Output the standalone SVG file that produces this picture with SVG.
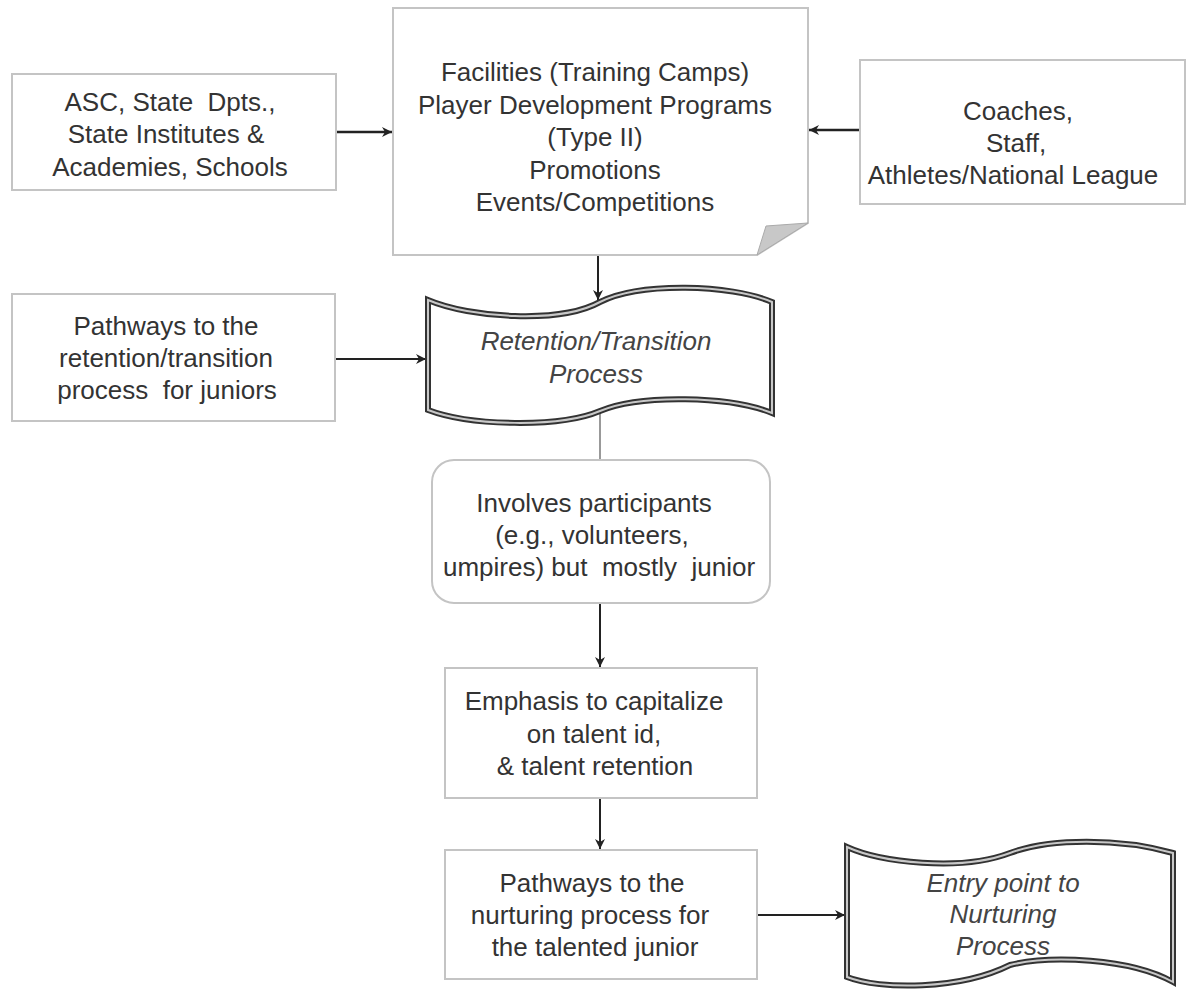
<svg xmlns="http://www.w3.org/2000/svg" width="1187" height="994" viewBox="0 0 1187 994">
<defs>
<style>
.box{fill:#fff;stroke:#c4c4c4;stroke-width:2}
.t{font-family:"Liberation Sans",Arial,sans-serif;font-size:26px;fill:#333;text-anchor:middle;white-space:pre}
.it{font-style:italic;fill:#444}
.tapeo{fill:#fff;stroke:#333;stroke-width:6;stroke-linejoin:miter}
.tapei{fill:none;stroke:#c8c8c8;stroke-width:2}
.c{fill:none;stroke:#222;stroke-width:2}
.cthick{fill:none;stroke:#222;stroke-width:2.6}
</style>
<marker id="ah" viewBox="0 0 10 10" refX="10" refY="5" markerWidth="10" markerHeight="10" markerUnits="userSpaceOnUse" orient="auto">
<path d="M0,0 L10,5 L0,10 L3,5 Z" fill="#222"/>
</marker>
</defs>

<g id="connectors">
<line class="cthick" x1="336" y1="132" x2="392" y2="132" marker-end="url(#ah)"/>
<line class="cthick" x1="860" y1="130" x2="809" y2="130" marker-end="url(#ah)"/>
<line class="c" x1="598" y1="255" x2="598" y2="300" marker-end="url(#ah)"/>
<line class="c" x1="336" y1="359" x2="426" y2="359" marker-end="url(#ah)"/>
<line x1="600" y1="412" x2="600" y2="460" stroke="#777" stroke-width="1.5"/>
<line class="c" x1="600" y1="604" x2="600" y2="667" marker-end="url(#ah)"/>
<line class="c" x1="600" y1="798" x2="600" y2="849" marker-end="url(#ah)"/>
<line class="c" x1="757" y1="915" x2="845" y2="915" marker-end="url(#ah)"/>
</g>

<g id="asc">
<rect class="box" x="12" y="74" width="324" height="116"/>
<text class="t" x="170" y="111">ASC, State  Dpts.,</text>
<text class="t" x="166" y="143">State Institutes &amp;</text>
<text class="t" x="170" y="176">Academies, Schools</text>
</g>

<g id="facilities">
<path class="box" d="M393,8 H808 V223 L757,255 H393 Z"/>
<path d="M808,223 L757,255 L766,226 Z" fill="#c8c8c8" stroke="#aaa" stroke-width="1"/>
<text class="t" x="595" y="81">Facilities (Training Camps)</text>
<text class="t" x="595" y="114">Player Development Programs</text>
<text class="t" x="595" y="146">(Type II)</text>
<text class="t" x="595" y="179">Promotions</text>
<text class="t" x="595" y="211">Events/Competitions</text>
</g>

<g id="coaches">
<rect class="box" x="860" y="60" width="325" height="144"/>
<text class="t" x="1018" y="120">Coaches,</text>
<text class="t" x="1016" y="152">Staff,</text>
<text class="t" x="1013" y="184">Athletes/National League</text>
</g>

<g id="pathways-retention">
<rect class="box" x="12" y="294" width="323" height="127"/>
<text class="t" x="166" y="335">Pathways to the</text>
<text class="t" x="166" y="367">retention/transition</text>
<text class="t" x="167" y="399">process  for juniors</text>
</g>

<g id="retention">
<path class="tapeo" d="M428,300 C470,318 560,324 600,302 C640,282 730,284 772,302 L772,413 C730,396 640,394 600,411 C560,428 470,426 428,410 Z"/>
<path class="tapei" d="M428,300 C470,318 560,324 600,302 C640,282 730,284 772,302 L772,413 C730,396 640,394 600,411 C560,428 470,426 428,410 Z"/>
<text class="t it" x="596" y="350">Retention/Transition</text>
<text class="t it" x="596" y="383">Process</text>
</g>

<g id="involves">
<rect class="box" x="432" y="460" width="338" height="143" rx="22" ry="22"/>
<text class="t" x="594" y="512">Involves participants</text>
<text class="t" x="592" y="544">(e.g., volunteers,</text>
<text class="t" x="599" y="576">umpires) but  mostly  junior</text>
</g>

<g id="emphasis">
<rect class="box" x="445" y="668" width="312" height="130"/>
<text class="t" x="594" y="710">Emphasis to capitalize</text>
<text class="t" x="594" y="743">on talent id,</text>
<text class="t" x="595" y="775">&amp; talent retention</text>
</g>

<g id="pathways-nurturing">
<rect class="box" x="445" y="850" width="312" height="129"/>
<text class="t" x="592" y="892">Pathways to the</text>
<text class="t" x="590" y="924">nurturing process for</text>
<text class="t" x="595" y="956">the talented junior</text>
</g>

<g id="entry">
<path class="tapeo" d="M847,847 C880,862 960,872 1010,853 C1050,838 1120,838 1173,853 L1173,982 C1130,958 1050,955 1010,965 C960,990 880,990 847,977 Z"/>
<path class="tapei" d="M847,847 C880,862 960,872 1010,853 C1050,838 1120,838 1173,853 L1173,982 C1130,958 1050,955 1010,965 C960,990 880,990 847,977 Z"/>
<text class="t it" x="1003" y="892">Entry point to</text>
<text class="t it" x="1003" y="923">Nurturing</text>
<text class="t it" x="1003" y="955">Process</text>
</g>
</svg>
